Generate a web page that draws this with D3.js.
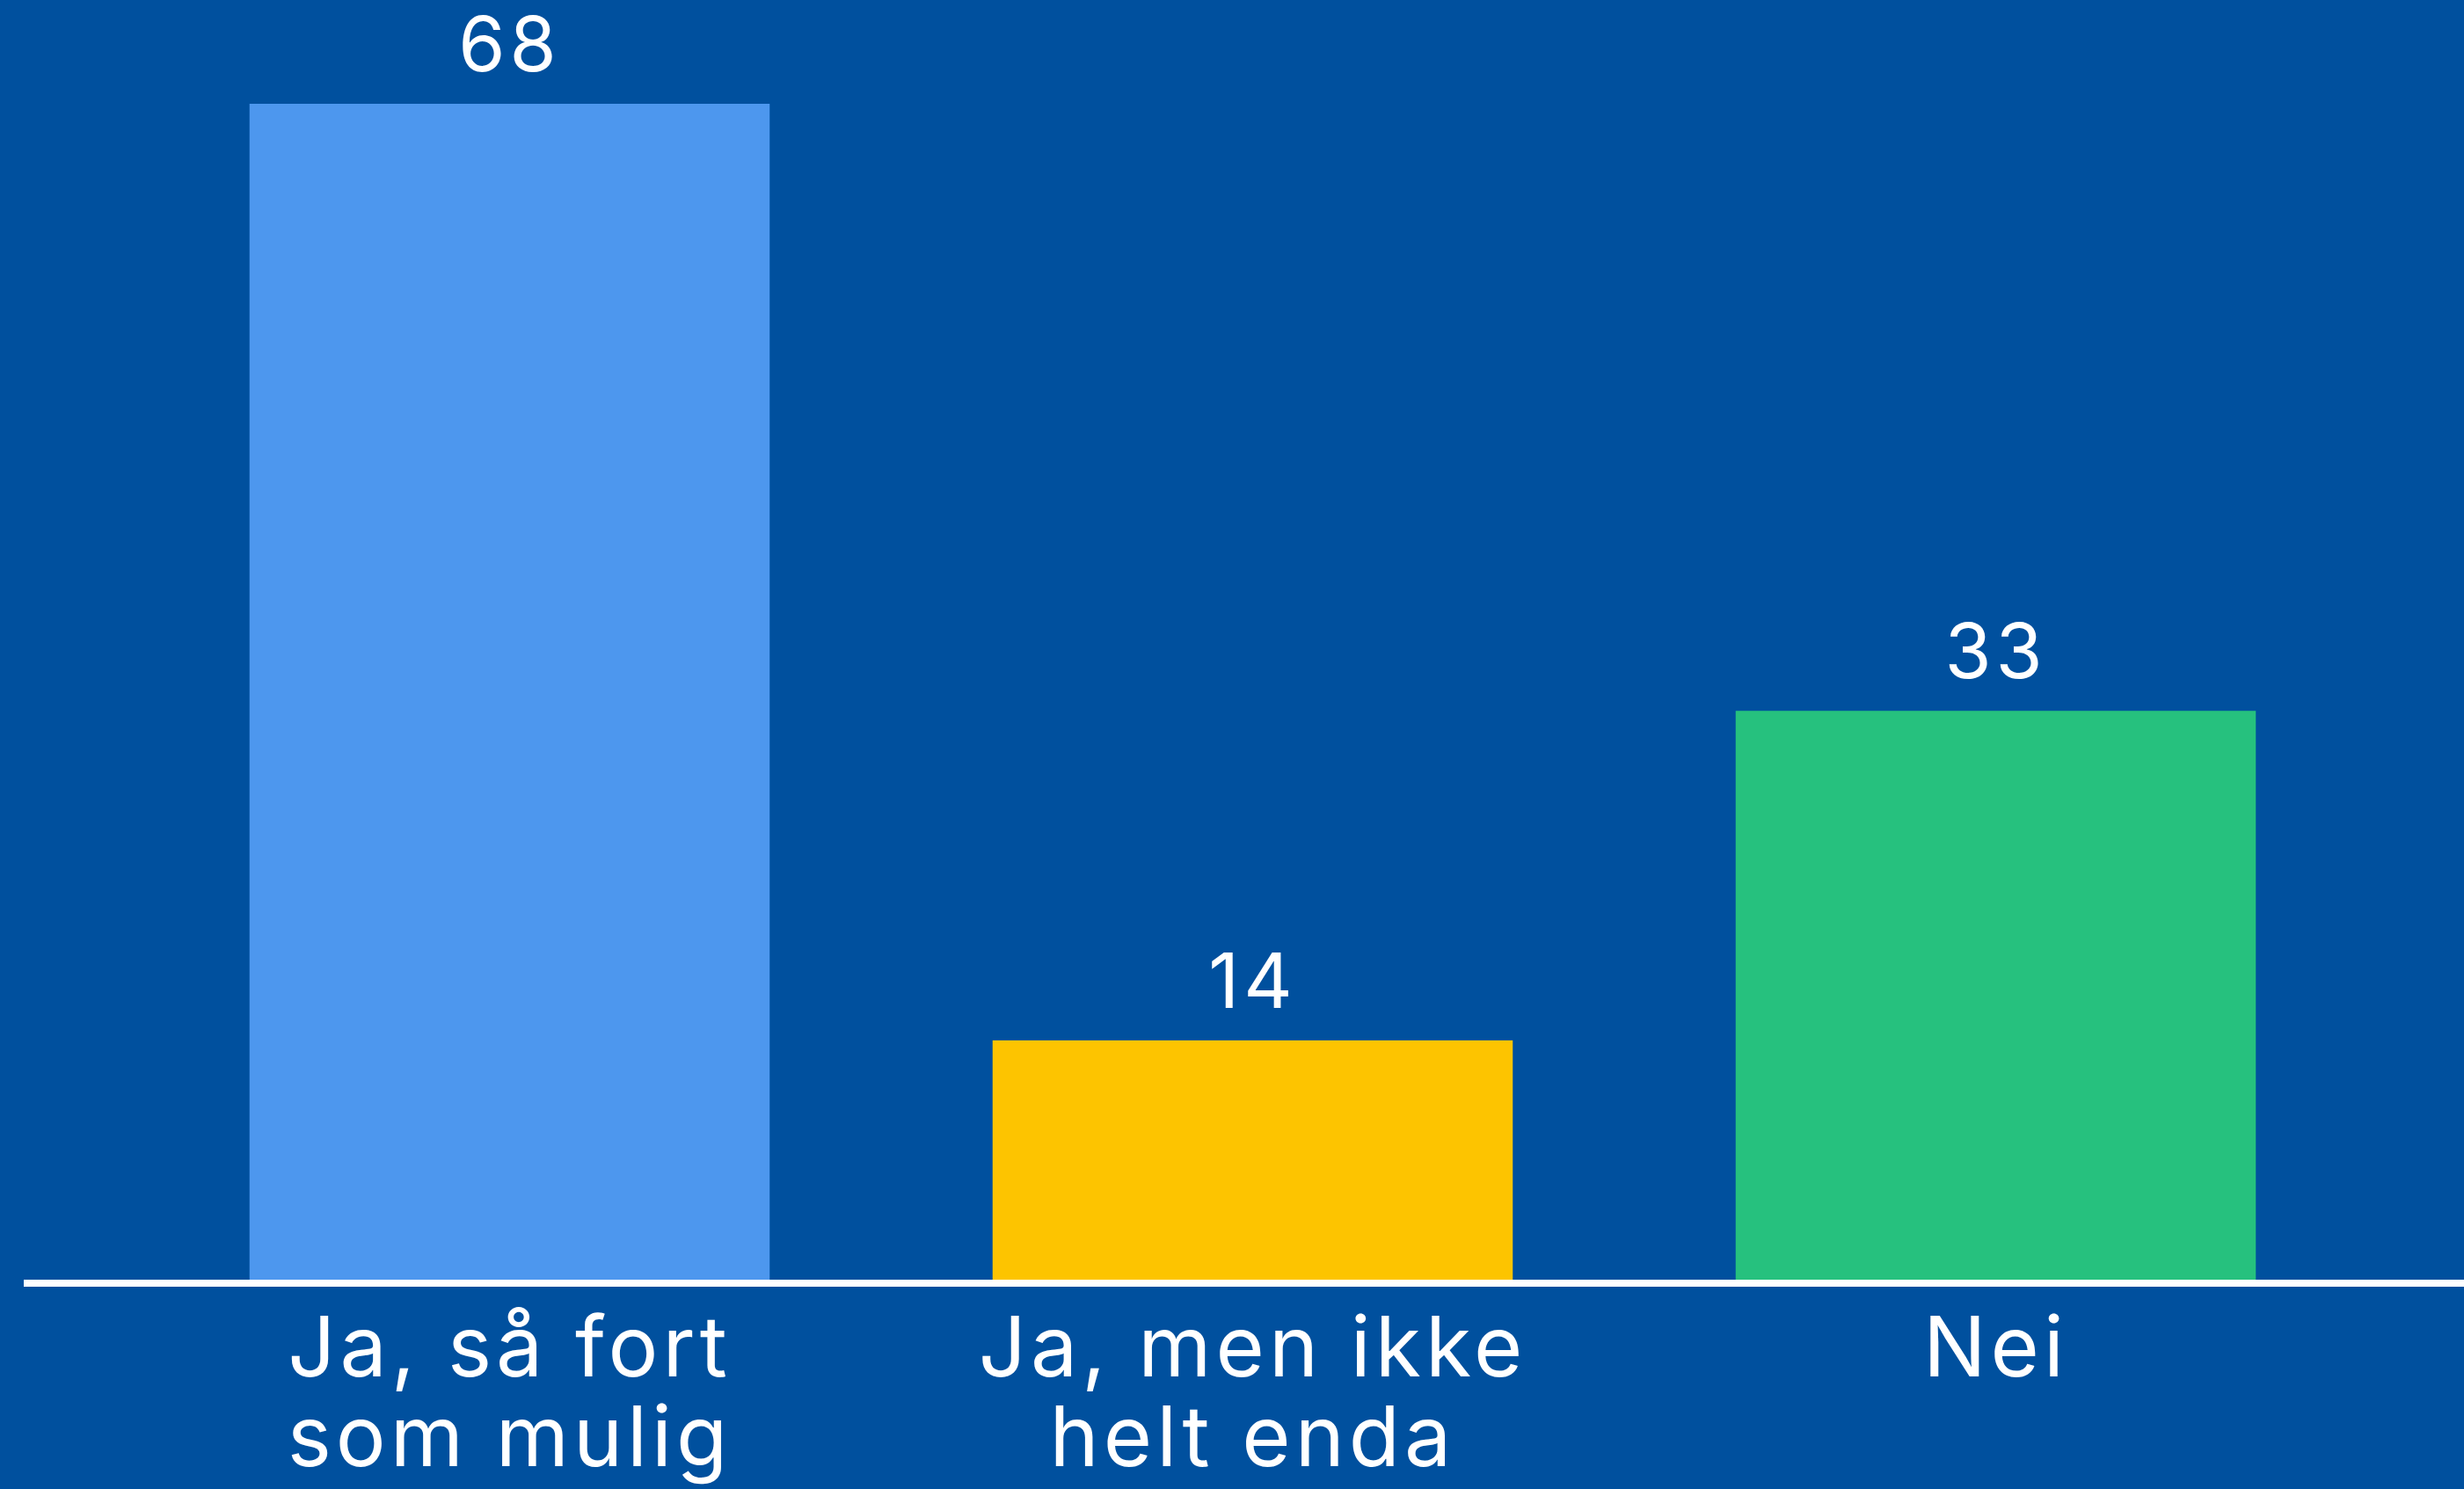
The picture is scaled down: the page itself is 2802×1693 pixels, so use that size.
<!DOCTYPE html>
<html>
<head>
<meta charset="utf-8">
<script src="https://cdn.jsdelivr.net/npm/d3@7"></script>
<style>
  html, body { margin: 0; padding: 0; background: #00509e; overflow: hidden; }
  text { font-family: "Inter", "Open Sans", sans-serif; fill: #ffffff; }
</style>
</head>
<body>
<div id="wrapper"></div>
<script>
const categories = ["Ja, så fort som mulig", "Ja, men ikke helt enda", "Nei"]
const labelLines = [["Ja, så fort", "som mulig"], ["Ja, men ikke", "helt enda"], ["Nei"]]
const values = [68, 14, 33]
const barColors = ["#4d97ee", "#fdc400", "#26c17e"]

function drawChart() {
  const dimensions = {
    width: 2802,
    height: 1693,
    baseline: 1459,
    barTop: 118,
  }

  const wrapper = d3.select("#wrapper")
    .append("svg")
      .attr("width", dimensions.width)
      .attr("height", dimensions.height)

  wrapper.append("rect")
      .attr("width", dimensions.width)
      .attr("height", dimensions.height)
      .attr("fill", "#00509e")

  const xScale = d3.scaleBand()
    .domain(categories)
    .range([157, 2692])
    .paddingInner(0.3)
    .paddingOuter(0.15)

  const yScale = d3.scaleLinear()
    .domain([0, d3.max(values)])
    .range([dimensions.baseline, dimensions.barTop])

  const data = categories.map((c, i) => ({ c, v: values[i], color: barColors[i], lines: labelLines[i] }))

  // bars
  wrapper.append("g")
    .selectAll("rect")
    .data(data)
    .join("rect")
      .attr("x", d => xScale(d.c))
      .attr("y", d => yScale(d.v))
      .attr("width", xScale.bandwidth())
      .attr("height", d => yScale(0) - yScale(d.v))
      .attr("fill", d => d.color)

  // value labels
  wrapper.append("g")
    .selectAll("text")
    .data(data)
    .join("text")
      .attr("x", d => xScale(d.c) + xScale.bandwidth() / 2)
      .attr("y", d => yScale(d.v) - 37)
      .attr("text-anchor", "middle")
      .style("font-size", "86px")
      .style("letter-spacing", "5px")
      .text(d => d.v)

  // baseline
  wrapper.append("line")
      .attr("x1", 27)
      .attr("x2", dimensions.width)
      .attr("y1", yScale(0))
      .attr("y2", yScale(0))
      .attr("stroke", "#ffffff")
      .attr("stroke-width", 8)

  // category labels
  const catLabels = wrapper.append("g")
    .selectAll("text")
    .data(data)
    .join("text")
      .attr("x", d => xScale(d.c) + xScale.bandwidth() / 2)
      .attr("y", 1565)
      .attr("text-anchor", "middle")
      .style("font-size", "95px")
      .style("letter-spacing", "5px")

  catLabels.selectAll("tspan")
    .data(d => d.lines.map(l => ({ l, x: xScale(d.c) + xScale.bandwidth() / 2 })))
    .join("tspan")
      .attr("x", d => d.x)
      .attr("dy", (d, i) => i === 0 ? 0 : 102)
      .text(d => d.l)
}
drawChart()
</script>
</body>
</html>
